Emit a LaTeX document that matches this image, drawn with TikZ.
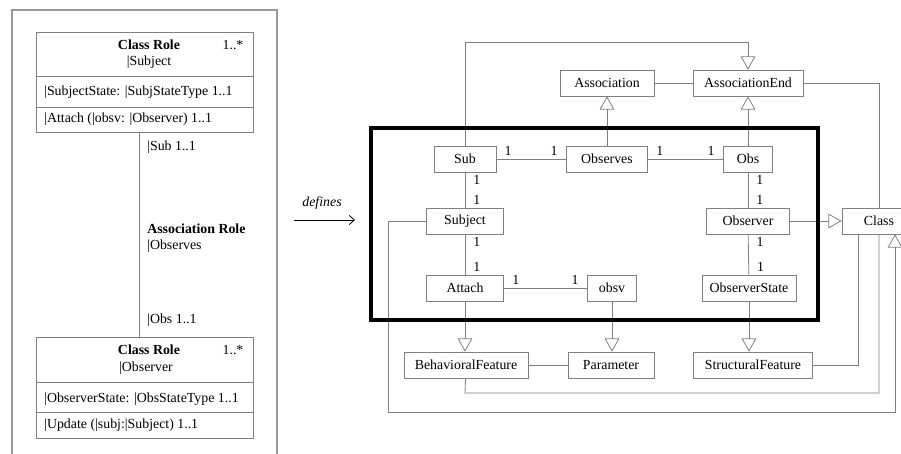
\documentclass[tikz,border=0pt]{standalone}
\usepackage{fontspec}
\setmainfont{Liberation Serif}
\usetikzlibrary{arrows.meta,positioning}

\begin{document}
\begin{tikzpicture}[x=0.75pt, y=-0.75pt, font=\fontsize{10.4pt}{12.5pt}\selectfont]
		\tikzstyle{Box}		= [rectangle, draw=gray, fill=white, minimum height=19.5pt, inner sep=1pt]
		\tikzstyle{RoleBox}	= [rectangle, draw=gray, minimum width=162.75pt, inner sep=0pt]
		\tikzstyle{Txt}		= [inner sep=0pt, anchor=west]
		\tikzstyle{Link}	= [draw=gray, line width=0.6pt]
		\tikzstyle{Gen}		= [-{Triangle[open, length=10pt, width=11pt]}]
		\tikzstyle{Mult}	= [inner sep=2pt]
		\tikzstyle{Scope}	= [draw=black, line width=3pt]

		\useasboundingbox (0,0) rectangle (901,454);

		% role model
		\draw [gray!80, line width=0.8pt] (12,10) rectangle (277,470);

		\node (SubjRole) at (144.5,82) [RoleBox, minimum height=75pt] {};
		\draw [Link] (36,76) -- (253,76);
		\draw [Link] (36,107) -- (253,107);
		\node (SubjTitle) at (149,45) {\textbf{Class Role}};
		\node (SubjMult) at (233,45) {1..*};
		\node (SubjName) at (149,62) {|Subject};
		\node (SubjAttr) at (44,92) [Txt] {|SubjectState: |SubjStateType 1..1};
		\node (SubjOp) at (44,119) [Txt] {|Attach (|obsv: |Observer) 1..1};

		\node (ObsRole) at (144.5,387.5) [RoleBox, minimum height=75.75pt] {};
		\draw [Link] (36,382) -- (253,382);
		\draw [Link] (36,412) -- (253,412);
		\node (ObsTitle) at (149,350) {\textbf{Class Role}};
		\node (ObsMult) at (233,350) {1..*};
		\node (ObsName) at (146,368) {|Observer};
		\node (ObsAttr) at (44,399) [Txt] {|ObserverState: |ObsStateType 1..1};
		\node (ObsOp) at (44,425) [Txt] {|Update (|subj:|Subject) 1..1};

		\draw [Link] ([xshift=-4pt]SubjRole.south) -- ([xshift=-4pt]ObsRole.north);
		\node (SubEnd) at (147,147) [Txt] {|Sub 1..1};
		\node (AssocTitle) at (147,229) [Txt] {\textbf{Association Role}};
		\node (AssocName) at (147,246) [Txt] {|Observes};
		\node (ObsEnd) at (147,320) [Txt] {|Obs 1..1};

		% defines
		\node (defs) at (322,203) {\textit{defines}};
		\coordinate (d1) at (294,220);
		\coordinate (d2) at (355,220);
		\draw [-{Straight Barb[length=4pt, width=7pt]}, line width=0.6pt] (d1) -- (d2);

		% metamodel
		\node (Association)	at (607,83)	[Box, minimum width=70.5pt] {Association};
		\node (AssocEnd)	at (748,83)	[Box, minimum width=82.5pt] {AssociationEnd};
		\node (Sub)		at (465,159)	[Box, minimum width=46.5pt] {Sub};
		\node (Observes)	at (607,159)	[Box, minimum width=61pt] {Observes};
		\node (Obs)		at (748,159)	[Box, minimum width=37pt] {Obs};
		\node (Subject)		at (465,221)	[Box, minimum width=58pt] {Subject};
		\node (Observer)	at (748,221)	[Box, minimum width=62pt] {Observer};
		\node (Class)		at (879,221)	[Box, minimum width=55.5pt] {Class};
		\node (Attach)		at (465,288)	[Box, minimum width=58pt] {Attach};
		\node (obsv)		at (612,288)	[Box, minimum width=37pt] {obsv};
		\node (ObsState)	at (749,288)	[Box, minimum width=70.5pt] {ObserverState};
		\node (BehFeat)		at (466,365)	[Box, minimum width=93pt] {BehavioralFeature};
		\node (Param)		at (611,365)	[Box, minimum width=64.5pt] {Parameter};
		\node (StrFeat)		at (753,365)	[Box, minimum width=89pt] {StructuralFeature};

		\coordinate (c1) at (465,42);
		\coordinate (c2) at (748,42);
		\coordinate (c3) at (858,234);
		\coordinate (c4) at (465,393);
		\coordinate (c5) at (388,221);
		\coordinate (c6) at (388,412);
		\coordinate (c7) at (895,412);

		\draw [Link, Gen] (Sub) -- (c1) -- (c2) -- (AssocEnd);
		\draw [Link, Gen] (Observes) -- (Association);
		\draw [Link, Gen] (Obs) -- (AssocEnd);
		\draw [Link] (Association) -- (AssocEnd);
		\draw [Link] (AssocEnd) -| (Class);
		\draw [Link, Gen] (Observer) -- (Class);

		\draw [Link] (Sub) -- (Observes) node [Mult, pos=0, above right, xshift=4pt] {1} node [Mult, pos=1, above left, xshift=-4pt] {1};
		\draw [Link] (Observes) -- (Obs) node [Mult, pos=0, above right, xshift=4pt] {1} node [Mult, pos=1, above left, xshift=-4pt] {1};
		\draw [Link] (Sub) -- (Subject) node [Mult, pos=0, below right, xshift=4pt] {1} node [Mult, pos=1, above right, xshift=4pt] {1};
		\draw [Link] (Subject) -- (Attach) node [Mult, pos=0, below right, xshift=4pt] {1} node [Mult, pos=1, above right, xshift=4pt] {1};
		\draw [Link] (Obs) -- (Observer) node [Mult, pos=0, below right, xshift=4pt] {1} node [Mult, pos=1, above right, xshift=4pt] {1};
		\draw [Link] (Observer) -- (ObsState) node [Mult, pos=0, below right, xshift=4pt] {1} node [Mult, pos=1, above right, xshift=4pt] {1};
		\draw [Link] (Attach) -- (obsv) node [Mult, pos=0, above right, xshift=4pt] {1} node [Mult, pos=1, above left, xshift=-4pt] {1};

		\draw [Link, Gen] (Attach) -- (Attach |- BehFeat.north);
		\draw [Link, Gen] (obsv) -- (obsv |- Param.north);
		\draw [Link, Gen] (ObsState) -- (ObsState |- StrFeat.north);
		\draw [Link] (BehFeat) -- (Param);
		\draw [Link] (StrFeat) -| (c3);
		\draw [Link] (BehFeat) -- (c4) -| (Class);
		\draw [Link, Gen] (Subject) -- (c5) -- (c6) -- (c7) -- (c7 |- Class.south);

		% the pattern
		\draw [Scope] (371,128) rectangle (818,320);
	\end{tikzpicture}
\end{document}
